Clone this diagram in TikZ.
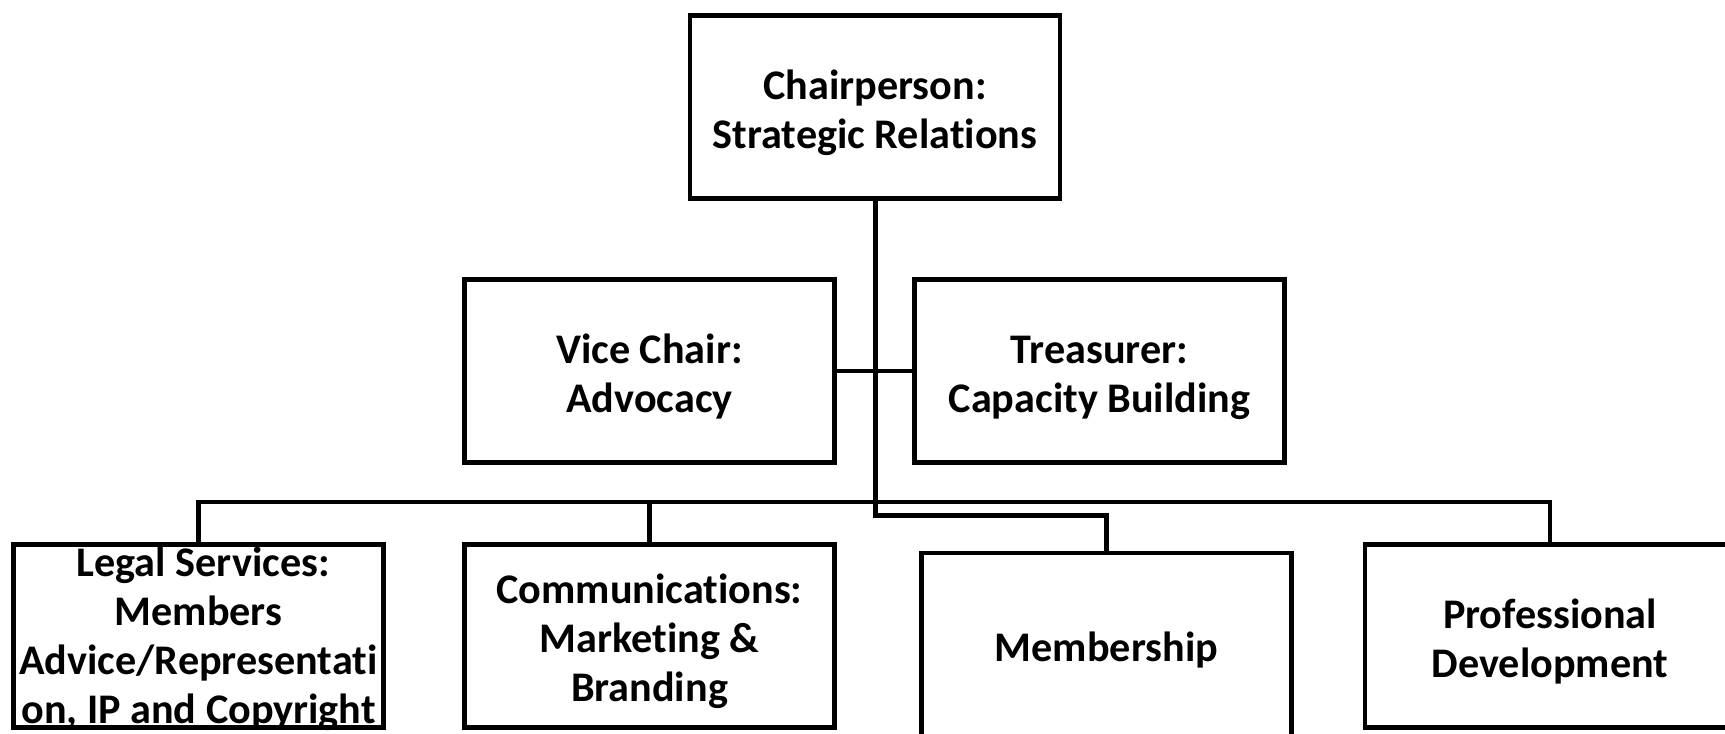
\documentclass[tikz,border=0pt]{standalone}
\usepackage{fontspec}
\setmainfont[Ligatures=NoCommon]{Carlito}
\usetikzlibrary{positioning}
\newcommand{\topgap}[1][11.5pt]{\rule{0pt}{#1}}
\tikzstyle{post}=[draw, fill=white, line width=0.045cm, minimum width=3.7cm, minimum height=1.83cm, align=center, inner sep=0pt, font=\bfseries\fontsize{12}{14}\selectfont]
\tikzstyle{link}=[line width=0.045cm]

\begin{document}
\begin{tikzpicture}[node distance=2cm]
\useasboundingbox (0,0) rectangle (17.25,-7.34);
  \node[post] at (8.75,-1.07) (chair) {\topgap Chairperson:\\Strategic Relations};

  \node[post] at (6.495,-3.71) (vice) {\topgap Vice Chair:\\Advocacy};
  \node[post, right of = vice, node distance = 4.5cm] (treas) {\topgap Treasurer:\\Capacity Building};

  \node[post, below of = vice, node distance = 2.65cm] (comm) {\topgap Communications:\\Marketing \&\\Branding};
  % text runs over the box, keep the box its size
  \node[post, inner ysep=-4pt, left of = comm, node distance = 4.51cm] (legal) {\topgap[10pt] Legal Services:\\Members\\Advice/Representati\\on, IP and Copyright};
  \node[post] at (11.065,-6.445) (memb) {\topgap Membership};
  \node[post, right of = comm, node distance = 9.005cm] (prof) {\topgap Professional\\Development};

\draw[link] (vice.east) -- (treas.west);
\draw[link] (legal.north) -- +(0,0.40) -| (prof.north);
\draw[link] (comm.north) -- +(0,0.40);
\draw[line width=0.05cm] (chair.south) -- +(0,-3.15) -| (memb.north);
\end{tikzpicture}
\end{document}
